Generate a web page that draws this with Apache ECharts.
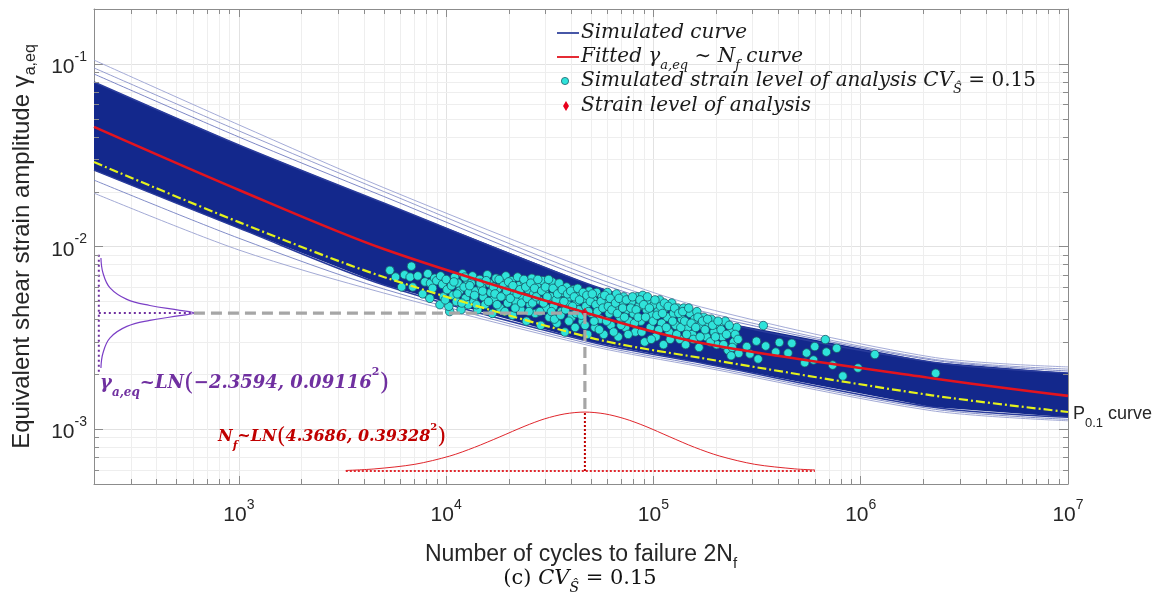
<!DOCTYPE html>
<html>
<head>
<meta charset="utf-8">
<script src="https://cdn.jsdelivr.net/npm/echarts/dist/echarts.min.js"></script>
<style>
  html, body { margin: 0; padding: 0; background: #fff; }
  #chart { width: 1160px; height: 595px; }
</style>
</head>
<body>
<div id="chart"></div>
<script>
const SANS = '"Liberation Sans", Arial, sans-serif';
const SERIF = '"DejaVu Serif", serif';

// axis ranges and decades (tick labels are 10^n)
const xRange = [200, 1e7];
const yRange = [5e-4, 0.2];
const minorMult = [2, 3, 4, 5, 6, 7, 8, 9];
const xDecades = [100, 1e3, 1e4, 1e5, 1e6];
const yDecades = [1e-4, 1e-3, 1e-2, 1e-1];

// envelopes of the simulated curves, [2Nf, gamma]
const bandTop = [[200,0.0797],[1000,0.0360],[5000,0.0173],[50000,0.00615],[170000,0.00406],[2200000,0.00233],[10000000,0.00203]];
const bandBottom = [[200,0.0262],[1000,0.0126],[5000,0.00615],[50000,0.00300],[170000,0.00230],[2200000,0.00132],[10000000,0.00116]];
const upperA = [[200,0.105],[1000,0.0464],[5000,0.0210],[50000,0.00743],[170000,0.00466],[2200000,0.00248],[10000000,0.00219]];
const upperB = [[200,0.0951],[1000,0.0430],[5000,0.0200],[50000,0.00689],[170000,0.00443],[2200000,0.00242],[10000000,0.00213]];
const upperC = [[200,0.0881],[1000,0.0398],[5000,0.0188],[50000,0.00654],[170000,0.00427],[2200000,0.00239],[10000000,0.00208]];
const lowerA = [[200,0.0231],[1000,0.0111],[5000,0.00585],[50000,0.00292],[170000,0.00224],[2200000,0.00129],[10000000,0.00113]];
const lowerB = [[200,0.0196],[1000,0.00957],[5000,0.00556],[50000,0.00285],[170000,0.00219],[2200000,0.00126],[10000000,0.00111]];

// fitted curve and P0.1 curve
const fittedCurve = [[200,0.0452],[1000,0.0204],[5000,0.00968],[50000,0.00425],[170000,0.00296],[2200000,0.00190],[10000000,0.00152]];
const p01Curve = [[200,0.0290],[1000,0.0136],[5000,0.00681],[50000,0.00316],[170000,0.00245],[2200000,0.00153],[10000000,0.00124]];

// simulated strain level points
const simPoints = [
  [5350,0.0074],[5700,0.0068],[6100,0.0060],[6300,0.0070],[6700,0.0068],[6800,0.0078],[6900,0.0060],[7300,0.0069],
  [7700,0.0055],[7900,0.0064],[8150,0.0071],[8340,0.0052],[8400,0.0063],[8600,0.0059],[8800,0.0067],[9000,0.0065],
  [9330,0.0048],[10400,0.0044],
  [9400,0.0069],[9600,0.0062],[9700,0.0053],[10000,0.0066],[10100,0.0058],[10300,0.0047],[10600,0.0061],[10800,0.0054],
  [11000,0.0068],[11200,0.0050],[11400,0.0063],[11600,0.0057],[11800,0.0045],[12000,0.0071],[12200,0.0060],[12400,0.0052],
  [12600,0.0066],[12800,0.0048],[12900,0.0056],
  [13200,0.0063],[13400,0.0069],[13600,0.0050],[13900,0.0057],[14200,0.0045],[14500,0.0066],[14800,0.0060],[15100,0.0053],
  [15400,0.0048],[15800,0.0070],[16100,0.0063],[16400,0.0056],[16700,0.0043],[17000,0.0051],[17400,0.0067],[17800,0.0059],
  [18200,0.0046],[18600,0.0064],[19000,0.0054],[19400,0.0069],[19800,0.0049],[20100,0.0060],
  [20600,0.0065],[20900,0.0042],[21300,0.0056],[21700,0.0050],[22100,0.0068],[22500,0.0061],[22900,0.0045],[23400,0.0053],
  [23900,0.0064],[24400,0.0039],[24900,0.0058],[25400,0.0048],[25900,0.0067],[26400,0.0055],[26900,0.0043],[27400,0.0061],
  [28000,0.0051],[28600,0.0037],[29200,0.0065],[29800,0.0057],[30400,0.0046],[31000,0.0062],[31400,0.0041],
  [32000,0.0053],[32500,0.0064],[33000,0.0047],[33600,0.0058],[34200,0.0038],[34800,0.0061],[35400,0.0050],[36000,0.0044],
  [36700,0.0056],[37400,0.0034],[38100,0.0060],[38800,0.0048],[39500,0.0053],[40300,0.0041],[41100,0.0058],[41900,0.0036],
  [42700,0.0050],[43600,0.0045],[44500,0.0055],[45400,0.0039],[46300,0.0052],[47200,0.0047],[48100,0.0033],[49000,0.0057],
  [50200,0.0043],[51200,0.0051],[52200,0.0036],[53200,0.0056],[54300,0.0046],[55400,0.0040],[56500,0.0053],[57600,0.0033],
  [58800,0.0049],[60000,0.0056],[61200,0.0043],[62400,0.0037],[63700,0.0051],[65000,0.0046],[66300,0.0055],[67600,0.0032],
  [69000,0.0041],[70400,0.0049],[71800,0.0053],[73300,0.0036],[74800,0.0045],[76300,0.0039],
  [78500,0.0050],[80100,0.0043],[81800,0.0034],[83500,0.0053],[85200,0.0047],[87000,0.0039],[88800,0.0054],[90700,0.0030],
  [92600,0.0045],[94600,0.0050],[96600,0.0036],[98600,0.0042],[100700,0.0048],[102800,0.0032],[105000,0.0044],[107200,0.0051],
  [109500,0.0038],[111800,0.0029],[114200,0.0046],[116600,0.0041],[119000,0.0034],
  [122500,0.0049],[125000,0.0043],[128000,0.0037],[131000,0.0046],[134000,0.0031],[137000,0.0040],[140000,0.0046],[143000,0.0029],
  [146000,0.0036],[150000,0.0043],[154000,0.0033],[158000,0.0040],[162000,0.0044],[166000,0.0028],[170000,0.0037],[175000,0.0041],
  [180000,0.0032],[185000,0.0038],
  [190000,0.0040],[196000,0.0034],[202000,0.0029],[208000,0.0037],[215000,0.0032],[222000,0.0039],[229000,0.0027],[236000,0.0034],
  [244000,0.0030],[252000,0.0036],[258000,0.0026],[237000,0.00252],
  [9900,0.0051],[10900,0.0064],[11300,0.0055],[11900,0.0049],[12300,0.0068],[13000,0.0061],[13700,0.0054],[14000,0.0048],
  [14600,0.0063],[15000,0.0057],[15600,0.0065],[16000,0.0050],[16900,0.0060],[17200,0.0055],[17600,0.0048],[18000,0.0066],
  [18400,0.0053],[18900,0.0061],[19200,0.0044],[19600,0.0057],[20000,0.0064],[20400,0.0052],[21000,0.0061],[21500,0.0046],
  [22000,0.0055],[22700,0.0058],[23100,0.0049],[23700,0.0066],[24200,0.0060],[24600,0.0052],[25100,0.0044],[25600,0.0063],
  [26100,0.0049],[26700,0.0059],[27200,0.0053],[27700,0.0066],[28300,0.0044],[28900,0.0057],[29500,0.0049],[30100,0.0060],
  [30700,0.0053],[31200,0.0066],[32200,0.0044],[32800,0.0059],[33300,0.0040],[33900,0.0051],[34500,0.0055],[35100,0.0063],
  [35700,0.0042],[36300,0.0058],[37000,0.0050],[37700,0.0045],[38500,0.0055],[39100,0.0039],[39900,0.0057],[40700,0.0047],
  [41500,0.0053],[42300,0.0043],[43100,0.0059],[44000,0.0051],[44900,0.0042],[45800,0.0056],[46800,0.0037],[47700,0.0054],
  [48600,0.0044],[49600,0.0050],[50700,0.0055],[51700,0.0039],[52700,0.0048],[53700,0.0044],[54800,0.0035],[55900,0.0050],
  [57000,0.0046],[58200,0.0054],[59400,0.0039],[60600,0.0047],[61800,0.0052],[63000,0.0045],[64300,0.0034],[65600,0.0049],
  [67000,0.0043],[68300,0.0052],[69700,0.0037],[71100,0.0046],[72500,0.0041],[74000,0.0051],[75500,0.0033],[77700,0.0046],
  [79300,0.0053],[81000,0.0038],[82600,0.0045],[84300,0.0041],[86100,0.0051],[87900,0.0034],[89700,0.0048],[91600,0.0041],
  [93600,0.0053],[95600,0.0046],[97600,0.0031],[99600,0.0039],[101700,0.0051],[103900,0.0042],[106100,0.0035],[108300,0.0047],
  [110600,0.0043],[113000,0.0049],[115400,0.0036],[117800,0.0047],[120500,0.0031],[123800,0.0039],[126500,0.0046],[129500,0.0033],
  [132500,0.0043],[135500,0.0036],[138500,0.0044],[141500,0.0039],[144500,0.0033],[148000,0.0046],[152000,0.0038],[156000,0.0031],
  [160000,0.0036],[164000,0.0041],[168000,0.0032],[172500,0.0039],[177500,0.0035],[182500,0.0040],[188000,0.0030],[193000,0.0037],
  [199000,0.0032],[205000,0.0039],[212000,0.0035],[218000,0.0029],[225000,0.0033],[232000,0.0037],[240000,0.0028],[248000,0.0033],
  [256000,0.0031],
  [282000,0.00283],[292000,0.00258],[314000,0.00303],[320000,0.00242],[339000,0.00369],[348000,0.00285],[389000,0.00264],
  [405000,0.00298],[446000,0.00261],[465000,0.00295],[537000,0.00231],[548000,0.00261],[592000,0.00239],[600000,0.00283],
  [675000,0.00309],[683000,0.00264],[732000,0.00224],[766000,0.00277],[820000,0.00195],[970000,0.00216],[1170000,0.00256],
  [2300000,0.00202]
];

// strain level of analysis (mean 2Nf, mean gamma)
const analysisPoint = [[46700, 0.00432]];

// lognormal pdf of gamma drawn on the left, and of Nf drawn at the bottom
const gammaPdf = [[216,0.00865],[221,0.00716],[239,0.00593],[288,0.00513],[372,0.00475],[519,0.00447],[607,0.00432],
  [519,0.00418],[372,0.00394],[288,0.00365],[239,0.00316],[221,0.00261],[216,0.00216]];
const gammaPdfAxis = [[211,0.0090],[211,0.00205]];
const gammaPdfMean = [[211,0.00432],[607,0.00432]];
const nfPdf = [[3280,0.000593],[4530,0.000605],[7060,0.000641],[10400,0.000711],[13700,0.000794],[18150,0.000906],
  [24000,0.001038],[29900,0.001138],[37400,0.001211],[46700,0.001239],[58300,0.001211],[72800,0.001138],[91000,0.001038],
  [120000,0.000906],[158000,0.000794],[209000,0.000711],[308000,0.000641],[481000,0.000605],[601000,0.000597]];
const nfPdfAxis = [[3280,0.000589],[601000,0.000589]];
const nfPdfMean = [[46700,0.000589],[46700,0.00124]];
const guideLine = [[607,0.00432],[46700,0.00432],[46700,0.00124]];

function minorValues(decades, lo, hi) {
  const out = [];
  decades.forEach(d => minorMult.forEach(m => {
    const v = d * m;
    if (v > lo * 1.0001 && v < hi * 0.9999) out.push(v);
  }));
  return out;
}
const xMinor = minorValues(xDecades, xRange[0], xRange[1]);
const yMinor = minorValues(yDecades, yRange[0], yRange[1]);

function powLabel(v) {
  const p = Math.log10(v);
  const r = Math.round(p);
  if (Math.abs(p - r) > 1e-6) return '';
  return '{b|10}{s|' + r + '}';
}

const AXIS_COLOR = '#8c8c8c';
const labelRich = {
  b: { fontSize: 21, lineHeight: 28, verticalAlign: 'bottom', fontFamily: SANS, color: '#262626' },
  s: { fontSize: 14, lineHeight: 28, verticalAlign: 'top', fontFamily: SANS, color: '#262626' }
};

// minor grid lines (under everything) and minor ticks (on top), both from axis coords
function minorRender(isX, ticks) {
  return function (params, api) {
    const cs = params.coordSys;
    const children = [];
    const style = ticks ? { stroke: AXIS_COLOR, lineWidth: 1 } : { stroke: '#eeeeee', lineWidth: 1 };
    if (isX) {
      const x = Math.round(api.coord([api.value(0), 1e-3])[0]) + 0.5;
      if (ticks) {
        children.push({ type: 'line', shape: { x1: x, y1: cs.y + cs.height, x2: x, y2: cs.y + cs.height - 5 }, style });
        children.push({ type: 'line', shape: { x1: x, y1: cs.y, x2: x, y2: cs.y + 5 }, style });
      } else {
        children.push({ type: 'line', shape: { x1: x, y1: cs.y, x2: x, y2: cs.y + cs.height }, style });
      }
    } else {
      const y = Math.round(api.coord([1000, api.value(1)])[1]) + 0.5;
      if (ticks) {
        children.push({ type: 'line', shape: { x1: cs.x, y1: y, x2: cs.x + 5, y2: y }, style });
        children.push({ type: 'line', shape: { x1: cs.x + cs.width, y1: y, x2: cs.x + cs.width - 5, y2: y }, style });
      } else {
        children.push({ type: 'line', shape: { x1: cs.x, y1: y, x2: cs.x + cs.width, y2: y }, style });
      }
    }
    return { type: 'group', children };
  };
}

function bandRender(params, api) {
  const pts = bandTop.map(p => api.coord(p)).concat(bandBottom.slice().reverse().map(p => api.coord(p)));
  return { type: 'polygon', shape: { points: pts }, style: { fill: '#13288c', stroke: null } };
}

function thinLine(name, data, color) {
  return {
    name, type: 'line', data, smooth: 0.3, showSymbol: false, silent: true, z: 3,
    lineStyle: { color, width: 0.9 }
  };
}

function helperLine(data, color, width, type, z, smooth) {
  return {
    type: 'line', data, smooth: smooth || false, showSymbol: false, silent: true, z,
    lineStyle: { color, width, type }
  };
}

const chart = echarts.init(document.getElementById('chart'), null, { renderer: 'canvas' });

chart.setOption({
  backgroundColor: '#ffffff',
  animation: false,
  grid: { left: 94, right: 92, top: 9, bottom: 111, containLabel: false, outerBoundsMode: 'none' },
  xAxis: [
    {
      type: 'log', logBase: 10, min: xRange[0], max: xRange[1], position: 'bottom',
      axisLine: { lineStyle: { color: AXIS_COLOR, width: 1 } },
      axisTick: { inside: true, length: 8, lineStyle: { color: AXIS_COLOR } },
      splitLine: { show: true, lineStyle: { color: '#e2e2e2', width: 1 } },
      axisLabel: { formatter: powLabel, margin: 14, rich: labelRich },
      name: 'Number of cycles to failure 2N{s|f}',
      nameLocation: 'middle', nameGap: 55,
      nameTextStyle: {
        fontSize: 23, fontFamily: SANS, color: '#262626', lineHeight: 28,
        rich: { s: { fontSize: 15, fontFamily: SANS, color: '#262626', verticalAlign: 'bottom', lineHeight: 32 } }
      }
    },
    {
      type: 'log', logBase: 10, min: xRange[0], max: xRange[1], position: 'top',
      axisLine: { lineStyle: { color: AXIS_COLOR, width: 1 } },
      axisTick: { inside: true, length: 8, lineStyle: { color: AXIS_COLOR } },
      splitLine: { show: false }, axisLabel: { show: false }
    }
  ],
  yAxis: [
    {
      type: 'log', logBase: 10, min: yRange[0], max: yRange[1], position: 'left',
      axisLine: { lineStyle: { color: AXIS_COLOR, width: 1 } },
      axisTick: { inside: true, length: 9, lineStyle: { color: AXIS_COLOR } },
      splitLine: { show: true, lineStyle: { color: '#e2e2e2', width: 1 } },
      axisLabel: { formatter: powLabel, margin: 7, rich: labelRich },
      name: 'Equivalent shear strain amplitude {g|γ}{s|a,eq}',
      nameLocation: 'middle', nameGap: 55,
      nameTextStyle: {
        fontSize: 24, fontFamily: SANS, color: '#262626', lineHeight: 30,
        rich: {
          g: { fontSize: 24, fontFamily: SANS, color: '#262626', lineHeight: 30 },
          s: { fontSize: 16, fontFamily: SANS, color: '#262626', verticalAlign: 'bottom', lineHeight: 34 }
        }
      }
    },
    {
      type: 'log', logBase: 10, min: yRange[0], max: yRange[1], position: 'right',
      axisLine: { lineStyle: { color: AXIS_COLOR, width: 1 } },
      axisTick: { inside: true, length: 9, lineStyle: { color: AXIS_COLOR } },
      splitLine: { show: false }, axisLabel: { show: false }
    }
  ],
  series: [
    { type: 'custom', renderItem: minorRender(true, false), data: xMinor.map(v => [v, 1e-3]), silent: true, z: 0 },
    { type: 'custom', renderItem: minorRender(false, false), data: yMinor.map(v => [1000, v]), silent: true, z: 0 },
    { type: 'custom', renderItem: bandRender, data: [[1000, 0.01]], silent: true, z: 2 },
    thinLine('upperA', upperA, '#9aa2d2'),
    thinLine('upperB', upperB, '#8a93c9'),
    thinLine('upperC', upperC, '#6f7bbf'),
    thinLine('lowerA', lowerA, '#7480c2'),
    thinLine('lowerB', lowerB, '#98a0d0'),
    helperLine(bandTop, '#2a3c9c', 1.5, 'solid', 3, 0.3),
    helperLine(bandBottom, '#2a3c9c', 1.5, 'solid', 3, 0.3),
    {
      name: 'Simulated strain level', type: 'scatter', data: simPoints, symbol: 'circle', symbolSize: 8.5,
      silent: true, z: 4,
      itemStyle: { color: '#2fe3da', borderColor: '#1a5866', borderWidth: 0.8, opacity: 1 }
    },
    helperLine(p01Curve, '#e4f21c', 2.2, [9, 3, 2, 3], 5, 0.3),
    helperLine(fittedCurve, '#e3141e', 2.6, 'solid', 5, 0.3),
    {
      name: 'Strain level of analysis', type: 'scatter', data: analysisPoint, symbol: 'diamond', symbolSize: [7, 11],
      silent: true, z: 7, itemStyle: { color: '#e8001c' }
    },
    helperLine(gammaPdf, '#7b3fc6', 1.2, 'solid', 4, 0.4),
    helperLine(gammaPdfAxis, '#7030a0', 2, [2, 3], 4),
    helperLine(gammaPdfMean, '#7030a0', 2, [2, 3], 4),
    helperLine(nfPdf, '#e0262c', 1, 'solid', 4, 0.3),
    helperLine(nfPdfAxis, '#e0262c', 2, [2, 2], 4),
    helperLine(nfPdfMean, '#c00000', 2, [2, 2], 4),
    helperLine(guideLine, '#a6a6a6', 3.2, [11, 6], 8),
    { type: 'custom', renderItem: minorRender(true, true), data: xMinor.map(v => [v, 1e-3]), silent: true, z: 9 },
    { type: 'custom', renderItem: minorRender(false, true), data: yMinor.map(v => [1000, v]), silent: true, z: 9 }
  ],
  graphic: [
    // legend
    { type: 'line', shape: { x1: 557, y1: 33, x2: 579, y2: 33 }, style: { stroke: '#33449e', lineWidth: 1.8 }, z: 20 },
    { type: 'text', x: 581, y: 33, z: 20, style: { text: 'Simulated curve', font: 'italic 20px ' + SERIF, fill: '#1a1a1a', verticalAlign: 'middle' } },
    { type: 'line', shape: { x1: 557, y1: 57, x2: 579, y2: 57 }, style: { stroke: '#e3141e', lineWidth: 1.8 }, z: 20 },
    { type: 'text', x: 581, y: 57, z: 20, style: {
        text: '{i|Fitted }{g|γ}{s|a,eq}{i| ∼ N}{s|f}{i| curve}', verticalAlign: 'middle',
        rich: {
          i: { fontSize: 20, fontFamily: SERIF, fontStyle: 'italic', fill: '#1a1a1a', lineHeight: 28 },
          g: { fontSize: 20, fontFamily: SERIF, fontStyle: 'italic', fill: '#1a1a1a', lineHeight: 28 },
          s: { fontSize: 13, fontFamily: SERIF, fontStyle: 'italic', fill: '#1a1a1a', verticalAlign: 'bottom', lineHeight: 30 }
        } } },
    { type: 'circle', shape: { cx: 565, cy: 81, r: 3.6 }, style: { fill: '#2fe3da', stroke: '#1c5f6c', lineWidth: 0.8 }, z: 20 },
    { type: 'text', x: 581, y: 81, z: 20, style: {
        text: '{i|Simulated strain level of analysis }{i|CV}{s|Ŝ}{r| = 0.15}', verticalAlign: 'middle',
        rich: {
          i: { fontSize: 20, fontFamily: SERIF, fontStyle: 'italic', fill: '#1a1a1a', lineHeight: 28 },
          r: { fontSize: 20, fontFamily: SERIF, fill: '#1a1a1a', lineHeight: 28 },
          s: { fontSize: 13, fontFamily: SERIF, fontStyle: 'italic', fill: '#1a1a1a', verticalAlign: 'bottom', lineHeight: 30 }
        } } },
    { type: 'polygon', shape: { points: [[566, 101], [569, 106], [566, 111], [563, 106]] }, style: { fill: '#e8001c' }, z: 20 },
    { type: 'text', x: 581, y: 106, z: 20, style: { text: 'Strain level of analysis', font: 'italic 20px ' + SERIF, fill: '#1a1a1a', verticalAlign: 'middle' } },

    // distribution labels
    { type: 'text', x: 100, y: 383, z: 20, style: {
        text: '{t|γ}{s|a,eq}{t|~LN}{p|(}{t|−2.3594, 0.09116}{u|2}{p|)}', verticalAlign: 'middle',
        rich: {
          t: { fontSize: 18, fontFamily: SERIF, fontStyle: 'italic', fontWeight: 'bold', fill: '#7030a0', lineHeight: 30 },
          s: { fontSize: 12, fontFamily: SERIF, fontStyle: 'italic', fontWeight: 'bold', fill: '#7030a0', verticalAlign: 'bottom', lineHeight: 32 },
          u: { fontSize: 11, fontFamily: SERIF, fontWeight: 'bold', fill: '#7030a0', verticalAlign: 'top', lineHeight: 30 },
          p: { fontSize: 25, fontFamily: SERIF, fill: '#7030a0', lineHeight: 30 }
        } } },
    { type: 'text', x: 218, y: 437, z: 20, style: {
        text: '{t|N}{s|f}{t|~LN}{p|(}{t|4.3686, 0.39328}{u|2}{p|)}', verticalAlign: 'middle',
        rich: {
          t: { fontSize: 16, fontFamily: SERIF, fontStyle: 'italic', fontWeight: 'bold', fill: '#c00000', lineHeight: 28 },
          s: { fontSize: 11, fontFamily: SERIF, fontStyle: 'italic', fontWeight: 'bold', fill: '#c00000', verticalAlign: 'bottom', lineHeight: 30 },
          u: { fontSize: 10, fontFamily: SERIF, fontWeight: 'bold', fill: '#c00000', verticalAlign: 'top', lineHeight: 28 },
          p: { fontSize: 23, fontFamily: SERIF, fill: '#c00000', lineHeight: 28 }
        } } },

    // P0.1 label
    { type: 'text', x: 1073, y: 414, z: 20, style: {
        text: '{p|P}{s|0.1}{p| curve}', verticalAlign: 'middle',
        rich: {
          p: { fontSize: 18, fontFamily: SANS, fill: '#262626', lineHeight: 26 },
          s: { fontSize: 13, fontFamily: SANS, fill: '#262626', verticalAlign: 'bottom', lineHeight: 32 }
        } } },

    // caption
    { type: 'text', x: 580, y: 579, z: 20, style: {
        text: '{r|(c) }{i|CV}{s|Ŝ}{r| = 0.15}', align: 'center', verticalAlign: 'middle',
        rich: {
          r: { fontSize: 21, fontFamily: SERIF, fill: '#111', lineHeight: 28 },
          i: { fontSize: 21, fontFamily: SERIF, fontStyle: 'italic', fill: '#111', lineHeight: 28 },
          s: { fontSize: 14, fontFamily: SERIF, fontStyle: 'italic', fill: '#111', verticalAlign: 'bottom', lineHeight: 32 }
        } } }
  ]
});
</script>
</body>
</html>
